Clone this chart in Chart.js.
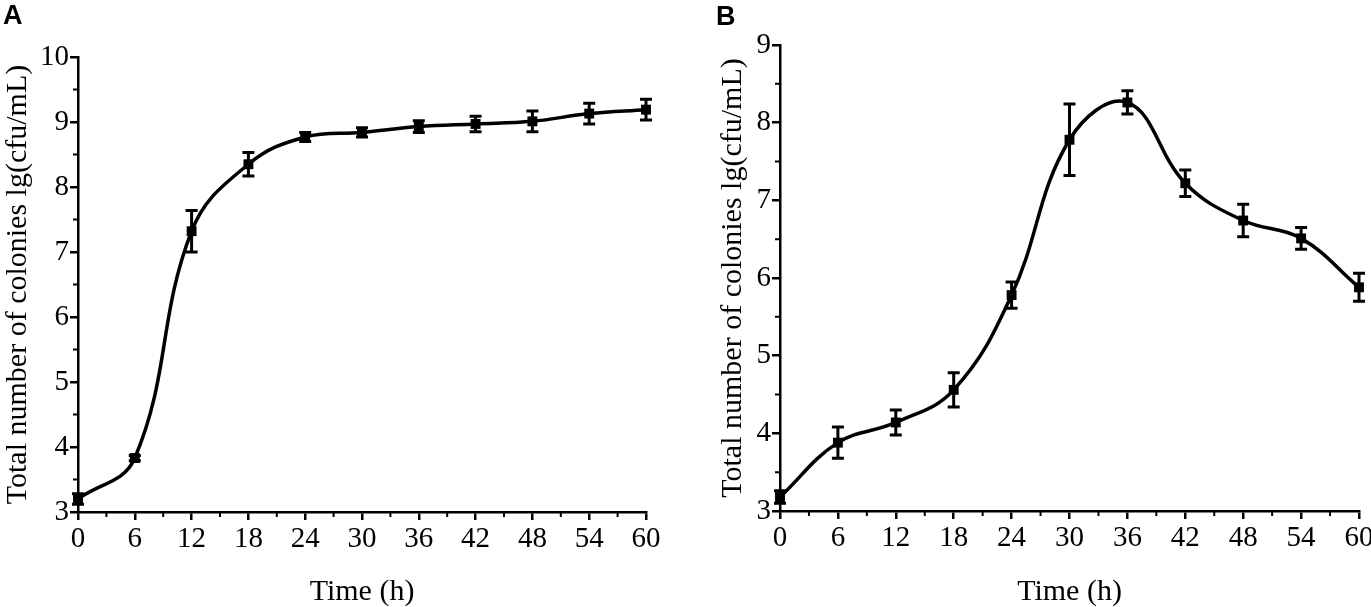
<!DOCTYPE html>
<html><head><meta charset="utf-8">
<script src="https://cdn.jsdelivr.net/npm/chart.js@4.4.0/dist/chart.umd.min.js"></script>
<style>
html,body{margin:0;padding:0;background:#fff;overflow:hidden;width:1371px;height:607px;position:relative;}
.panel{position:absolute;top:0;height:607px;}
#wa{left:0;width:690px;}
#wb{left:690px;width:700px;}
.lbl{position:absolute;font-family:"Liberation Sans",Arial,sans-serif;font-weight:bold;font-size:27px;line-height:1;color:#000;}
</style></head><body>
<div class="panel" id="wa"><canvas id="ca"></canvas></div>
<div class="panel" id="wb"><canvas id="cb"></canvas></div>
<div class="lbl" style="left:3px;top:2px">A</div>
<div class="lbl" style="left:716px;top:3px">B</div>
<script>
const hours = [0, 6, 12, 18, 24, 30, 36, 42, 48, 54, 60];
const coloniesA = [3.20, 3.83, 7.32, 8.35, 8.77, 8.84, 8.93, 8.97, 9.01, 9.13, 9.19];
const errorA    = [0.08, 0.04, 0.32, 0.18, 0.07, 0.07, 0.09, 0.12, 0.16, 0.16, 0.16];
const coloniesB = [3.18, 3.88, 4.14, 4.56, 5.78, 7.78, 8.26, 7.22, 6.74, 6.51, 5.88];
const errorB    = [0.08, 0.20, 0.16, 0.22, 0.17, 0.46, 0.15, 0.17, 0.21, 0.14, 0.18];
const xTitle = 'Time (h)';
const yTitle = 'Total number of colonies lg(cfu/mL)';

const errPlugin = {
  id: 'err',
  afterDatasetsDraw(chart, args, opts) {
    const {ctx, scales: {x, y}} = chart;
    const errs = opts.errors || [];
    const pts = chart.data.datasets[0].data;
    ctx.save();
    ctx.strokeStyle = '#000';
    ctx.lineWidth = 3;
    pts.forEach((p, i) => {
      const px = x.getPixelForValue(p.x);
      const top = y.getPixelForValue(p.y + errs[i]);
      const bot = y.getPixelForValue(p.y - errs[i]);
      ctx.beginPath();
      ctx.moveTo(px, top); ctx.lineTo(px, bot);
      ctx.moveTo(px - 6, top); ctx.lineTo(px + 6, top);
      ctx.moveTo(px - 6, bot); ctx.lineTo(px + 6, bot);
      ctx.stroke();
    });
    ctx.restore();
  },
  afterDraw(chart) {
    const {ctx, scales: {x, y}} = chart;
    ctx.save();
    ctx.strokeStyle = '#000';
    ctx.lineWidth = 2;
    ctx.beginPath();
    for (let v = x.min + 3; v < x.max; v += 6) {
      const px = x.getPixelForValue(v);
      ctx.moveTo(px, x.top); ctx.lineTo(px, x.top + 5);
    }
    for (let v = y.min + 0.5; v < y.max; v += 1) {
      const py = y.getPixelForValue(v);
      ctx.moveTo(y.right, py); ctx.lineTo(y.right - 5, py);
    }
    ctx.stroke();
    ctx.restore();
  }
};

function makeChart(id, vals, errs, ymax, cfg) {
  return new Chart(document.getElementById(id), {
    type: 'line',
    data: {
      datasets: [{
        data: hours.map((h, i) => ({x: h, y: vals[i]})),
        borderColor: '#000', backgroundColor: '#000', borderWidth: 3.5,
        pointStyle: 'rect', pointRadius: 7, pointHoverRadius: 7, pointBorderWidth: 0,
        tension: 0.4, clip: false, fill: false
      }]
    },
    options: {
      responsive: true, maintainAspectRatio: false, animation: false, events: [],
      layout: {padding: {left: 0, right: cfg.padR, top: cfg.padT, bottom: 0}},
      plugins: {legend: {display: false}, tooltip: {enabled: false}, err: {errors: errs}},
      scales: {
        x: {
          type: 'linear', min: 0, max: 60,
          ticks: {stepSize: 6, color: '#000', font: {family: 'Liberation Serif', size: 29}, padding: 2, maxRotation: 0, autoSkip: false},
          grid: {drawOnChartArea: false, drawTicks: true, tickLength: 8, color: '#000', lineWidth: 2.5},
          border: {display: true, color: '#000', width: 2.5},
          title: {display: true, text: xTitle, color: '#000', font: {family: 'Liberation Serif', size: 30, lineHeight: 1}, padding: {top: 0, bottom: 0}},
          afterFit(s) { s.height = cfg.xH; }
        },
        y: {
          type: 'linear', min: 3, max: ymax,
          ticks: {stepSize: 1, color: '#000', font: {family: 'Liberation Serif', size: 29}, padding: 1},
          grid: {drawOnChartArea: false, drawTicks: true, tickLength: 8, color: '#000', lineWidth: 2.5},
          border: {display: true, color: '#000', width: 2.5},
          title: {display: true, text: yTitle, color: '#000', font: {family: 'Liberation Serif', size: 30, lineHeight: 1}, padding: {top: cfg.titleP, bottom: 0}},
          afterFit(s) { s.width = cfg.yW; }
        }
      }
    },
    plugins: [errPlugin]
  });
}

makeChart('ca', coloniesA, errorA, 10, {padR: 44, padT: 57, xH: 95, yW: 78, titleP: 3});
makeChart('cb', coloniesB, errorB, 9, {padR: 31, padT: 45, xH: 96, yW: 90, titleP: 28});
</script>
</body></html>
